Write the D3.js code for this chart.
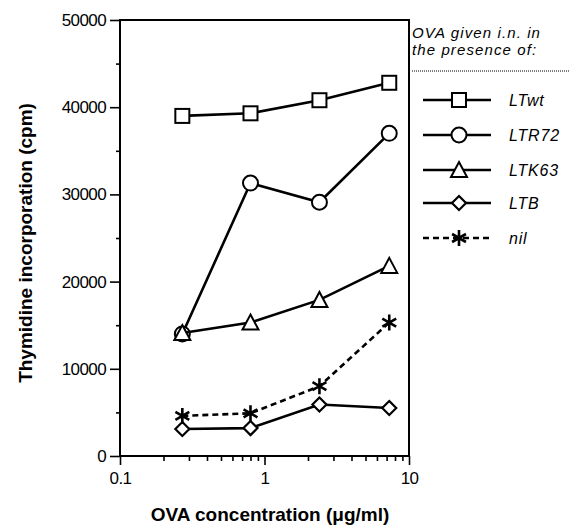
<!DOCTYPE html>
<html>
<head>
<meta charset="utf-8">
<script src="https://cdn.jsdelivr.net/npm/d3@7"></script>
<style>
  body { margin: 0; background: #fff; }
  text { font-family: "Liberation Sans", Arial, sans-serif; fill: #000; }
</style>
</head>
<body>
<div id="chart"></div>
<script>
// OVA concentrations (ug/ml), 3-fold steps
const doses = [0.27, 0.8, 2.4, 7.3];
const ltwt = [39000, 39300, 40800, 42800];
const ltr72 = [14000, 31300, 29100, 37000];
const ltk63 = [14100, 15300, 17900, 21800];
const ltb = [3100, 3200, 5900, 5500];
const nil = [4600, 4900, 8000, 15300];

const seriesNames = ["LTwt", "LTR72", "LTK63", "LTB", "nil"];
const seriesValues = [ltwt, ltr72, ltk63, ltb, nil];
const seriesSymbols = ["square", "circle", "triangle", "diamond", "star"];

const yTicks = [0, 10000, 20000, 30000, 40000, 50000];
const xTicks = [0.1, 1, 10];

const W = 570, H = 531;
const plot = { left: 120, right: 409, top: 20, bottom: 456 };

const svg = d3.select("#chart").append("svg")
  .attr("width", W).attr("height", H);

const x = d3.scaleLog().domain([0.1, 10]).range([plot.left, plot.right]);
const y = d3.scaleLinear().domain([0, 50000]).range([plot.bottom, plot.top]);

// minor ticks
const xMinor = [];
[0.1, 1].forEach(d => { for (let k = 2; k <= 9; k++) xMinor.push(d * k); });
const yMinor = d3.range(5000, 50000, 10000);

svg.append("g").attr("transform", `translate(0,${plot.bottom})`)
  .call(d3.axisBottom(x).tickValues(xTicks).tickFormat(d3.format("")).tickSize(9).tickPadding(7));
svg.append("g").attr("transform", `translate(0,${plot.bottom})`)
  .call(d3.axisBottom(x).tickValues(xMinor).tickFormat("").tickSize(5));
svg.append("g").attr("transform", `translate(${plot.left},0)`)
  .call(d3.axisLeft(y).tickValues(yTicks).tickFormat(d3.format("d")).tickSize(10).tickPadding(4));
svg.append("g").attr("transform", `translate(${plot.left},0)`)
  .call(d3.axisLeft(y).tickValues(yMinor).tickFormat("").tickSize(4));

svg.selectAll(".domain").remove();
svg.selectAll(".tick line").attr("stroke", "#000").attr("stroke-width", 1.6);
svg.selectAll(".tick text")
  .style("font-size", "17px").style("letter-spacing", "-0.6px").attr("fill", "#222");

// frame
svg.append("rect")
  .attr("x", plot.left).attr("y", plot.top)
  .attr("width", plot.right - plot.left).attr("height", plot.bottom - plot.top)
  .attr("fill", "none").attr("stroke", "#000").attr("stroke-width", 2);

// axis titles
svg.append("text")
  .attr("transform", `translate(32,243) rotate(-90)`)
  .attr("text-anchor", "middle")
  .style("font-size", "19px").style("font-weight", "bold")
  .text("Thymidine incorporation (cpm)");
svg.append("text")
  .attr("x", 270).attr("y", 521)
  .attr("text-anchor", "middle")
  .style("font-size", "19px").style("font-weight", "bold")
  .text("OVA concentration (\u03bcg/ml)");

function drawSymbol(g, type, cx, cy) {
  const s = 7;
  if (type === "square") {
    g.append("rect").attr("x", cx - s).attr("y", cy - s).attr("width", 2 * s).attr("height", 2 * s)
      .attr("fill", "#fff").attr("stroke", "#000").attr("stroke-width", 2);
  } else if (type === "circle") {
    g.append("circle").attr("cx", cx).attr("cy", cy).attr("r", s + 0.5)
      .attr("fill", "#fff").attr("stroke", "#000").attr("stroke-width", 2);
  } else if (type === "triangle") {
    g.append("path")
      .attr("d", `M${cx},${cy - s - 1}L${cx + s + 1},${cy + s}L${cx - s - 1},${cy + s}Z`)
      .attr("fill", "#fff").attr("stroke", "#000").attr("stroke-width", 2);
  } else if (type === "diamond") {
    g.append("path")
      .attr("d", `M${cx},${cy - s}L${cx + s},${cy}L${cx},${cy + s}L${cx - s},${cy}Z`)
      .attr("fill", "#fff").attr("stroke", "#000").attr("stroke-width", 2.2);
  } else {
    const p = d3.path();
    const r0 = 8;
    [90, 30, 150].forEach(a => {
      const r = a * Math.PI / 180;
      p.moveTo(cx + r0 * Math.cos(r), cy - r0 * Math.sin(r));
      p.lineTo(cx - r0 * Math.cos(r), cy + r0 * Math.sin(r));
    });
    g.append("path").attr("d", p.toString())
      .attr("stroke", "#000").attr("stroke-width", 2.6).attr("fill", "none");
  }
}

const line = d3.line().x(d => x(d[0])).y(d => y(d[1]));

seriesValues.forEach((vals, i) => {
  const pts = doses.map((d, j) => [d, vals[j]]);
  const g = svg.append("g");
  g.append("path").datum(pts).attr("d", line)
    .attr("fill", "none").attr("stroke", "#000").attr("stroke-width", 2.6)
    .attr("stroke-dasharray", seriesSymbols[i] === "star" ? "6,4" : null);
  pts.forEach(p => drawSymbol(g, seriesSymbols[i], x(p[0]), y(p[1])));
});

// legend
const lg = svg.append("g");
lg.append("text").attr("x", 412).attr("y", 38)
  .style("font-size", "15px").style("font-style", "italic").style("letter-spacing", "1.1px")
  .text("OVA given i.n. in");
lg.append("text").attr("x", 412).attr("y", 55)
  .style("font-size", "15px").style("font-style", "italic").style("letter-spacing", "1.1px")
  .text("the presence of:");
lg.append("line").attr("x1", 412).attr("x2", 570).attr("y1", 71).attr("y2", 71)
  .attr("stroke", "#000").attr("stroke-width", 1).attr("stroke-dasharray", "1,1");

const legendY = [100, 135, 170, 203, 238];
seriesNames.forEach((name, i) => {
  const ly = legendY[i];
  lg.append("line").attr("x1", 423).attr("x2", 491).attr("y1", ly).attr("y2", ly)
    .attr("stroke", "#000").attr("stroke-width", 2.6)
    .attr("stroke-dasharray", seriesSymbols[i] === "star" ? "6,4" : null);
  drawSymbol(lg, seriesSymbols[i], 459, ly);
  lg.append("text").attr("x", 509).attr("y", ly + 6)
    .style("font-size", "16px").style("font-style", "italic").style("letter-spacing", "0.8px")
    .text(name);
});
</script>
</body>
</html>
